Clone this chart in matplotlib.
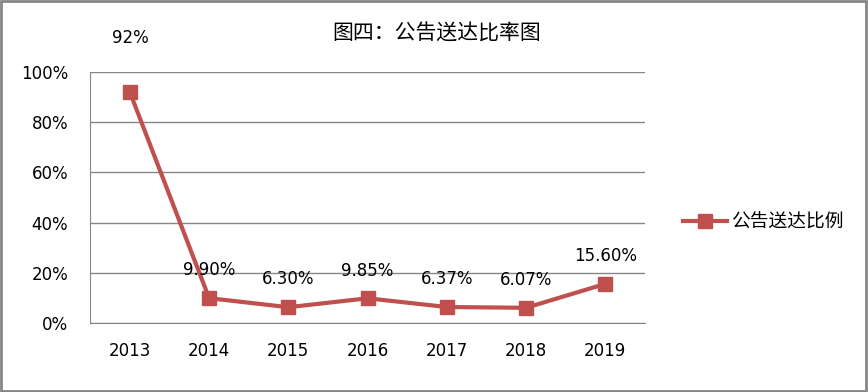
import matplotlib
matplotlib.use('Agg')
import matplotlib.pyplot as plt
from matplotlib.patches import Rectangle
from matplotlib.ticker import FuncFormatter

plt.rcParams['font.family'] = ['DejaVu Sans', 'Noto Sans CJK SC']

# data
years = ['2013', '2014', '2015', '2016', '2017', '2018', '2019']
rate = [0.92, 0.099, 0.063, 0.0985, 0.0637, 0.0607, 0.156]
rate_labels = ['92%', '9.90%', '6.30%', '9.85%', '6.37%', '6.07%', '15.60%']

red = '#C0504D'
grey = '#868686'

fig = plt.figure(figsize=(8.68, 3.92), dpi=100)
ax = fig.add_axes([0.104, 0.176, 0.639, 0.64])

x = range(len(years))
ax.plot(x, rate, color=red, lw=3, marker='s', ms=10, label='公告送达比例')

for i, (v, lab) in enumerate(zip(rate, rate_labels)):
    off = 39 if i == 0 else 20
    ax.annotate(lab, (i, v), xytext=(0, off), textcoords='offset points',
                ha='center', va='center', fontsize=12)

ax.set_xlim(-0.5, len(years) - 0.5)
ax.set_ylim(0, 1.0)
ax.set_yticks([0, 0.2, 0.4, 0.6, 0.8, 1.0])
ax.yaxis.set_major_formatter(FuncFormatter(lambda v, p: '%d%%' % round(v * 100)))
ax.set_xticks(list(x))
ax.set_xticklabels(years)
ax.tick_params(axis='both', length=0, labelsize=12, colors='black')
ax.tick_params(axis='x', pad=14)
ax.tick_params(axis='y', pad=16)
ax.grid(axis='y', color=grey, lw=1)
ax.set_axisbelow(True)
for s in ['top', 'right']:
    ax.spines[s].set_visible(False)
for s in ['left', 'bottom']:
    ax.spines[s].set_color(grey)
for l in ax.get_lines():
    l.set_clip_on(False)

fig.text(0.503, 0.915, '图四：公告送达比率图', ha='center', va='center', fontsize=15,
         family=['Noto Sans CJK SC', 'DejaVu Sans'])

fig.legend(loc='center left', bbox_to_anchor=(0.768, 0.433), frameon=False,
           prop={'family': ['Noto Sans CJK SC', 'DejaVu Sans'], 'size': 13.5},
           handlelength=2.3, handletextpad=0.25)

fig.patches.append(Rectangle((0.001, 0.002), 0.997, 0.996, transform=fig.transFigure,
                             fill=False, edgecolor=grey, lw=2))

fig.savefig('out.png', dpi=100)
